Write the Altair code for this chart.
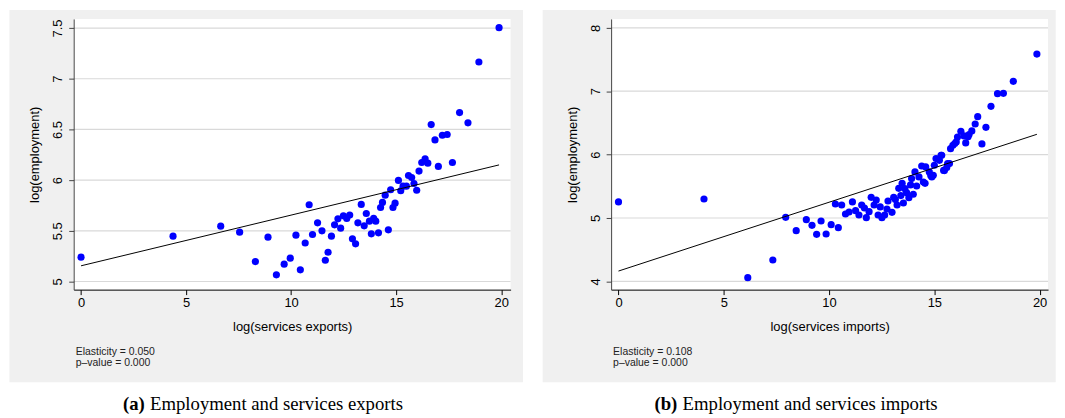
import altair as alt
import pandas as pd

# ---------------- data ----------------
exp_x = [0.00, 4.38, 6.65, 7.55, 8.30, 8.90, 9.30, 9.67, 9.96, 10.23, 10.44, 10.67, 10.86,
         11.02, 11.26, 11.47, 11.63, 11.76, 11.92, 12.07, 12.23, 12.36, 12.49, 12.65, 12.79,
         12.92, 13.07, 13.18, 13.34, 13.48, 13.58, 13.73, 13.82, 13.93, 14.03, 14.16, 14.26,
         14.35, 14.48, 14.63, 14.74, 14.85, 14.95, 15.11, 15.22, 15.33, 15.49, 15.59, 15.74,
         15.85, 15.98, 16.09, 16.22, 16.38, 16.51, 16.67, 16.85, 17.01, 17.20, 17.43, 17.68,
         18.02, 18.42, 18.94, 19.90]
exp_y = [5.240, 5.447, 5.546, 5.487, 5.197, 5.437, 5.066, 5.171, 5.230, 5.457, 5.115, 5.380, 5.757,
         5.464, 5.579, 5.500, 5.210, 5.289, 5.447, 5.559, 5.618, 5.526, 5.648, 5.622, 5.655,
         5.421, 5.372, 5.579, 5.760, 5.549, 5.671, 5.595, 5.470, 5.622, 5.595, 5.480, 5.730,
         5.780, 5.852, 5.510, 5.905, 5.730, 5.773, 5.997, 5.895, 5.940, 5.940, 6.046, 6.026,
         5.967, 5.900, 6.089, 6.174, 6.210, 6.167, 6.548, 6.397, 6.135, 6.443, 6.450, 6.174,
         6.666, 6.565, 7.165, 7.504]

imp_x = [0.00, 4.06, 6.14, 7.33, 7.94, 8.44, 8.92, 9.19, 9.41, 9.62, 9.86, 10.10, 10.30, 10.44,
         10.60, 10.78, 10.95, 11.11, 11.26, 11.42, 11.55, 11.68, 11.77, 11.90, 12.00, 12.14,
         12.24, 12.33, 12.43, 12.51, 12.64, 12.75, 12.80, 12.99, 13.07, 13.15, 13.23, 13.31,
         13.41, 13.47, 13.53, 13.60, 13.68, 13.79, 13.87, 13.92, 14.00, 14.08, 14.16, 14.27,
         14.40, 14.48, 14.56, 14.59, 14.76, 14.83, 14.88, 14.95, 15.00, 15.08, 15.24, 15.32,
         15.35, 15.44, 15.48, 15.59, 15.63, 15.72, 15.77, 15.88, 15.97, 16.04, 16.10, 16.26,
         16.41, 16.49, 16.60, 16.65, 16.78, 16.94, 17.06, 17.26, 17.45, 17.69, 18.00, 18.28,
         18.75, 19.87]
imp_y = [5.253, 5.300, 4.058, 4.337, 5.010, 4.800, 4.974, 4.884, 4.742, 4.953, 4.747, 4.895, 5.221, 4.847,
         5.205, 5.063, 5.095, 5.253, 5.116, 5.047, 5.205, 5.158, 5.005, 5.100, 5.326, 5.205,
         5.284, 5.047, 5.174, 5.005, 5.047, 5.142, 5.268, 5.089, 5.326, 5.290, 5.205, 5.468,
         5.353, 5.547, 5.237, 5.463, 5.400, 5.320, 5.521, 5.622, 5.374, 5.727, 5.505, 5.648,
         5.820, 5.568, 5.547, 5.806, 5.727, 5.670, 5.648, 5.674, 5.832, 5.937, 5.910, 5.990,
         5.990, 5.750, 5.748, 5.795, 5.860, 5.858, 6.094, 6.147, 6.173, 6.200, 6.278, 6.367,
         6.294, 6.184, 6.280, 6.315, 6.373, 6.483, 6.598, 6.168, 6.430, 6.761, 6.961, 6.966,
         7.155, 7.585]

exp_fit_x = [0.0, 19.90]
exp_fit_y = [5.155, 6.150]
imp_fit_x = [0.0, 19.87]
imp_fit_y = [4.163, 6.320]

x_ticks = [0, 5, 10, 15, 20]
exp_y_ticks = [5, 5.5, 6, 6.5, 7, 7.5]
imp_y_ticks = [4, 5, 6, 7, 8]

panels = [
    dict(x=exp_x, y=exp_y, fx=exp_fit_x, fy=exp_fit_y, yticks=exp_y_ticks,
         xdom=[-0.35, 20.45], ydom=[4.92, 7.59], xtitle="log(services exports)",
         stats=["Elasticity = 0.050", "p\u2013value = 0.000"],
         tag="(a)", caption="Employment and services exports", tagx=71.4, capx=76.7),
    dict(x=imp_x, y=imp_y, fx=imp_fit_x, fy=imp_fit_y, yticks=imp_y_ticks,
         xdom=[-0.35, 20.40], ydom=[3.87, 8.14], xtitle="log(services imports)",
         stats=["Elasticity = 0.108", "p\u2013value = 0.000"],
         tag="(b)", caption="Employment and services imports", tagx=66.5, capx=71.8),
]

W, H = 439, 272
SANS = "Liberation Sans"
SERIF = "Liberation Serif"
one = pd.DataFrame({"k": [0]})


def panel(p, gx0, gx1):
    xscale = alt.Scale(domain=p["xdom"], nice=False, zero=False)
    yscale = alt.Scale(domain=p["ydom"], nice=False, zero=False)
    xaxis = alt.Axis(values=x_ticks, format="d", title=p["xtitle"], grid=False,
                     tickSize=5, tickColor="black", domainColor="black", labelColor="black",
                     labelFont=SANS, labelFontSize=13, labelPadding=2, labelFlush=False,
                     titleFont=SANS, titleFontSize=13, titleFontWeight="normal",
                     titleColor="black", titleY=37, titleBaseline="middle", zindex=1)
    yaxis = alt.Axis(values=p["yticks"], format="~g", title="log(employment)", grid=False,
                     tickSize=5, tickColor="#444444", domainColor="#444444", labelColor="black",
                     labelFont=SANS, labelFontSize=13, labelAngle=270, labelAlign="center",
                     labelBaseline="bottom", labelPadding=4, labelFlush=False, labelOverlap=False,
                     titleFont=SANS, titleFontSize=13, titleFontWeight="normal", titleColor="black",
                     titleAngle=270, titleX=-39, titleY=H / 2, titleAlign="center",
                     titleBaseline="middle", zindex=1)

    def X(f):
        return alt.X(f, type="quantitative", scale=xscale, axis=xaxis)

    def Y(f):
        return alt.Y(f, type="quantitative", scale=yscale, axis=yaxis)

    pts = pd.DataFrame({"x": p["x"], "y": p["y"]})
    fit = pd.DataFrame({"x": p["fx"], "y": p["fy"]})
    grid = pd.DataFrame({"y": p["yticks"]})

    bg = alt.Chart(one).mark_rect(color="#f0f0f0").encode(
        x=alt.value(gx0), x2=alt.value(gx1), y=alt.value(-9), y2=alt.value(365))
    plotbg = alt.Chart(one).mark_rect(color="white").encode(
        x=alt.value(0), x2=alt.value(W), y=alt.value(0), y2=alt.value(H))
    gl = alt.Chart(grid).mark_rule(color="#d9d9d9", strokeWidth=1.2).encode(y=Y("y"))
    dots = alt.Chart(pts).mark_circle(size=52, color="#0000ff", opacity=1).encode(x=X("x"), y=Y("y"))
    line = alt.Chart(fit).mark_line(color="black", strokeWidth=1).encode(x=X("x"), y=Y("y"))
    s1 = alt.Chart(one).mark_text(text=p["stats"][0], font=SANS, fontSize=10.5, color="#222222",
                                  align="left", baseline="middle").encode(
        x=alt.value(2), y=alt.value(335))
    s2 = alt.Chart(one).mark_text(text=p["stats"][1], font=SANS, fontSize=10.5, color="#222222",
                                  align="left", baseline="middle").encode(
        x=alt.value(2), y=alt.value(345.5))
    tag = alt.Chart(one).mark_text(text=p["tag"], font=SERIF, fontSize=18.8, fontWeight="bold",
                                   color="black", align="right", baseline="middle").encode(
        x=alt.value(p["tagx"]), y=alt.value(387))
    cap = alt.Chart(one).mark_text(text=p["caption"], font=SERIF, fontSize=18.8, color="black",
                                   align="left", baseline="middle").encode(
        x=alt.value(p["capx"]), y=alt.value(387))
    return alt.layer(bg, plotbg, gl, dots, line, s1, s2, tag, cap).properties(width=W, height=H)


left = panel(panels[0], -64.6, 451.4)
right = panel(panels[1], -68.8, 446.7)

chart = alt.hconcat(left, right, spacing=101, bounds="flush").properties(
    padding=0, background="white"
).configure_view(stroke="transparent")

chart.save("out.html", embed_options={"renderer": "svg", "actions": False})
